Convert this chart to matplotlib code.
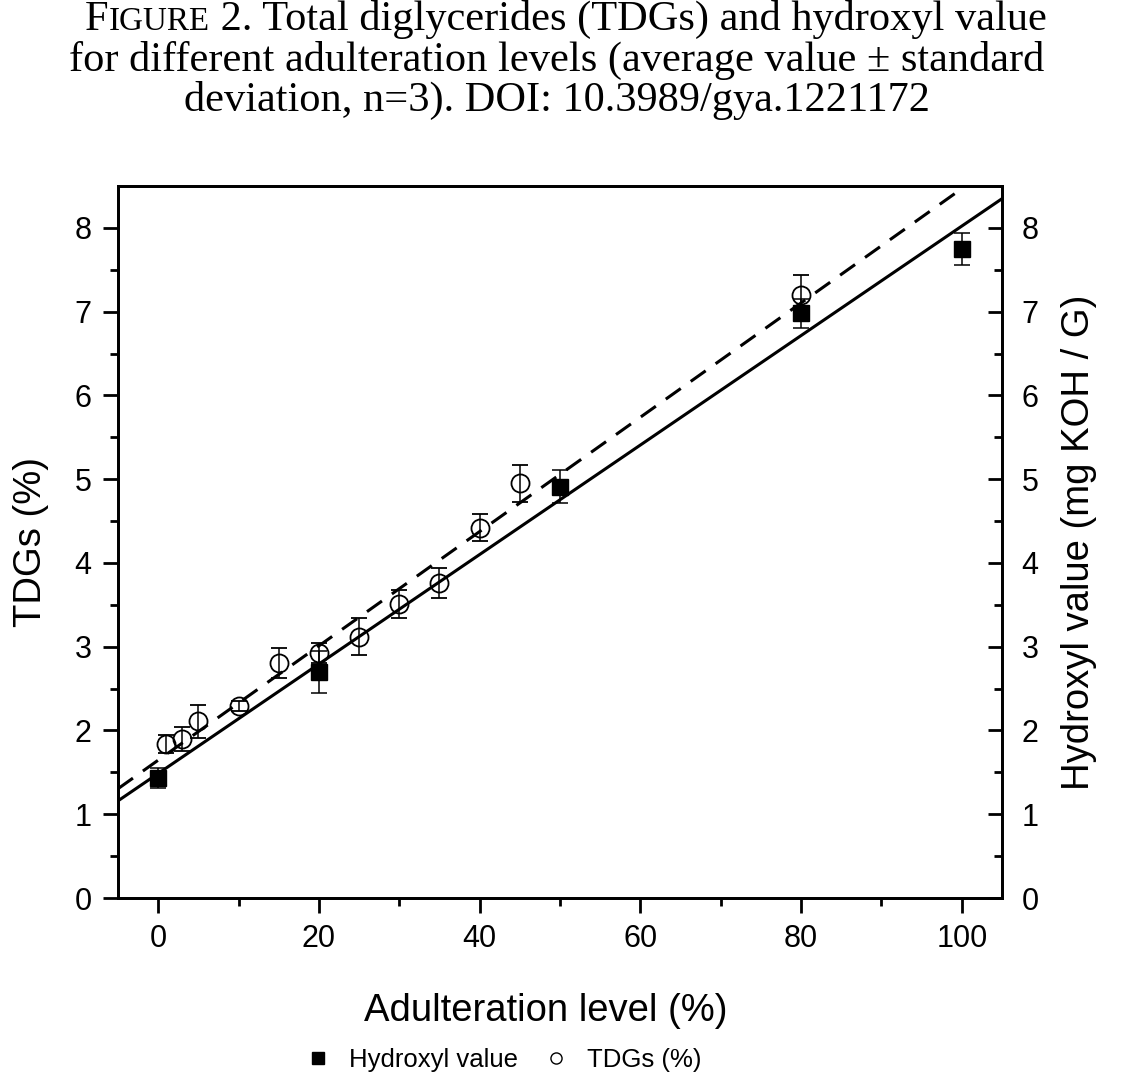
import numpy as np
import matplotlib
matplotlib.use('Agg')
import matplotlib.pyplot as plt
from matplotlib.lines import Line2D

# hydroxyl value (mg KOH / g), squares
level_hv = [0, 20, 50, 80, 100]
hv = [1.43, 2.70, 4.91, 6.98, 7.75]
hv_sd = [0.12, 0.25, 0.20, 0.17, 0.19]

# total diglycerides (%), open circles
level_tdg = [1, 3, 5, 10, 15, 20, 25, 30, 35, 40, 45, 80]
tdg = [1.84, 1.90, 2.11, 2.29, 2.81, 2.92, 3.12, 3.51, 3.76, 4.42, 4.95, 7.20]
tdg_sd = [0.11, 0.14, 0.20, 0.06, 0.18, 0.12, 0.22, 0.17, 0.18, 0.16, 0.22, 0.24]

plt.rcParams['font.family'] = ['Liberation Sans', 'DejaVu Sans']

fig = plt.figure(figsize=(11.43, 10.79), dpi=100)
ax = fig.add_axes([118 / 1143, 1 - 898 / 1079, 884 / 1143, 712 / 1079])

# linear fits
xx = np.array([-5, 105])
k1, b1 = np.polyfit(level_hv, hv, 1)
k2, b2 = np.polyfit(level_tdg, tdg, 1)
ax.plot(xx, k1 * xx + b1, color='black', lw=2.2, zorder=3)
ax.plot(xx, k2 * xx + b2, color='black', lw=2.2, dashes=(6, 4), zorder=3)

ax.errorbar(level_hv, hv, yerr=hv_sd, fmt='s', color='black', ms=12,
            ecolor='black', elinewidth=1.1, capsize=5.8, capthick=1.1, zorder=4)
ax.errorbar(level_tdg, tdg, yerr=tdg_sd, fmt='o', mfc='none', mec='black',
            mew=1.3, ms=13, ecolor='black', elinewidth=1.1, capsize=5.8,
            capthick=1.1, zorder=4)

ax.set_xlim(-5, 105)
ax.set_ylim(0, 8.5)
ax.set_xticks(range(0, 101, 20))
ax.set_xticks(range(10, 101, 20), minor=True)
ax.set_yticks(range(0, 9))
ax.set_yticks(np.arange(0.5, 8.5, 1), minor=True)
for s in ax.spines.values():
    s.set_linewidth(2)
ax.tick_params(axis='both', which='major', labelsize=22, length=11, width=2, direction='out', pad=8)
ax.tick_params(axis='both', which='minor', length=6, width=2, direction='out')
ax.set_xlabel('Adulteration level (%)', fontsize=27.5)
ax.xaxis.set_label_coords(0.484, -0.133)
ax.set_ylabel('TDGs (%)', fontsize=27.5, labelpad=18)

ax2 = ax.twinx()
ax2.set_ylim(0, 8.5)
ax2.set_yticks(range(0, 9))
ax2.set_yticks(np.arange(0.5, 8.5, 1), minor=True)
ax2.tick_params(axis='y', which='major', labelsize=22, length=10, width=2, direction='in', pad=14)
ax2.tick_params(axis='y', which='minor', length=6, width=2, direction='in')
ax2.set_ylabel('Hydroxyl value (mg KOH / G)', fontsize=27.5, labelpad=16)
for s in ax2.spines.values():
    s.set_linewidth(2)

handles = [Line2D([], [], ls='none', marker='s', color='black', ms=8.5),
           Line2D([], [], ls='none', marker='o', mfc='none', mec='black', mew=1, ms=8)]
fig.legend(handles, ['Hydroxyl value', 'TDGs (%)'], loc='center', ncol=2,
           bbox_to_anchor=(502 / 1143, 1 - 1060 / 1079), frameon=False,
           fontsize=18.5, handletextpad=0.6, columnspacing=0.9, handlelength=1.2)

# title, first word in small caps
serif = ['Liberation Serif', 'DejaVu Serif']
tsize = 30.5
fig.canvas.draw()
r = fig.canvas.get_renderer()
pieces = [('F', tsize), ('IGURE', tsize * 0.78), (' 2. Total diglycerides (TDGs) and hydroxyl value', tsize)]
texts = [fig.text(0, 1 - 30 / 1079, p, fontsize=s, family=serif, va='baseline') for p, s in pieces]
widths = [t.get_window_extent(r).width for t in texts]
x0 = (566 - sum(widths) / 2) / 1143
for t, w in zip(texts, widths):
    t.set_x(x0)
    x0 += w / 1143
fig.text(557 / 1143, 1 - 71 / 1079, 'for different adulteration levels (average value \u00b1 standard',
         fontsize=tsize, family=serif, ha='center', va='baseline')
fig.text(557 / 1143, 1 - 111 / 1079, 'deviation, n=3). DOI: 10.3989/gya.1221172',
         fontsize=tsize, family=serif, ha='center', va='baseline')

fig.savefig('out.png', dpi=100)
